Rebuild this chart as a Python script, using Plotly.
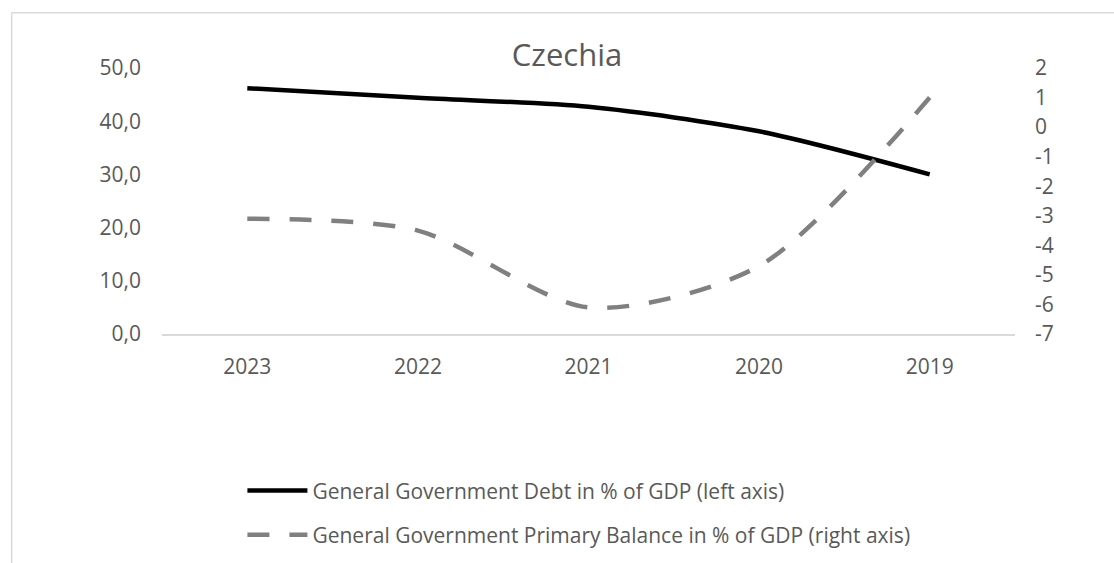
import plotly.graph_objects as go

# data
years = ["2023", "2022", "2021", "2020", "2019"]
debt = [46.2, 44.4, 42.7, 38.1, 30.0]          # % of GDP, left axis
balance = [-3.1, -3.5, -6.1, -4.7, 1.0]        # % of GDP, right axis

left_ticks = [0, 10, 20, 30, 40, 50]
right_ticks = [-7, -6, -5, -4, -3, -2, -1, 0, 1, 2]
right_labels = [str(v) for v in right_ticks]

FONT = "Open Sans"
GREY_TXT = "#595959"

fig = go.Figure()
fig.add_trace(go.Scatter(
    x=years, y=debt, mode="lines", name="General Government Debt in % of GDP (left axis)",
    line=dict(color="black", width=4.5, shape="spline", smoothing=0.8),
    legendgroup="a",
))
fig.add_trace(go.Scatter(
    x=years, y=balance, mode="lines",
    name="General Government Primary Balance in % of GDP (right axis)",
    line=dict(color="#808080", width=4.5, dash="22px,20px", shape="spline", smoothing=0.8),
    yaxis="y2", legendgroup="b",
))

# plot area in pixels: x 161.5..1015.5, y 68..334.5
W, H = 1114, 563
L, R, T, B = 161.5, 1015.5, 68.3, 334.5

def px(x):
    return (x - L) / (R - L)

def py(y):
    return (B - y) / (B - T)

fig.update_layout(
    width=W, height=H,
    margin=dict(l=L, r=W - R, t=T, b=H - B, pad=0, autoexpand=False),
    paper_bgcolor="white", plot_bgcolor="white",
    separators=", ",
    font=dict(family=FONT, size=21, color=GREY_TXT),
    title=dict(text="Czechia", x=px(567), xanchor="center", xref="paper",
               y=1 - 55 / H, yanchor="middle", yref="container",
               font=dict(family=FONT, size=31, color=GREY_TXT)),
    xaxis=dict(range=[-0.5, len(years) - 0.5], showgrid=False, showline=True,
               linecolor="#d9d9d9", linewidth=1.5,
               ticks="", ticklabelstandoff=13, zeroline=False),
    yaxis=dict(range=[0, 50], tickvals=left_ticks, tickformat=".1f", showgrid=False,
               zeroline=False, showline=False, ticks="", ticklabelstandoff=20),
    yaxis2=dict(range=[-7, 2], tickvals=right_ticks, ticktext=right_labels,
                overlaying="y", side="right", showgrid=False, zeroline=False,
                showline=False, ticks="", ticklabelstandoff=19),
    legend=dict(x=px(242), xanchor="left", y=py(471), yanchor="top",
                tracegroupgap=14, itemwidth=60,
                font=dict(family=FONT, size=21, color=GREY_TXT)),
    shapes=[
        dict(type="line", xref="paper", yref="paper", x0=px(11), x1=px(W + 5),
             y0=py(13), y1=py(13), line=dict(color="#d9d9d9", width=1.5)),
        dict(type="line", xref="paper", yref="paper", x0=px(11), x1=px(11),
             y0=py(13), y1=py(H + 5), line=dict(color="#d9d9d9", width=1.5)),
    ],
)

# the page's default 8px body margin would shift the whole chart
fig.write_html("out.html", config={"displayModeBar": False},
               post_script="document.body.style.margin='0';")
